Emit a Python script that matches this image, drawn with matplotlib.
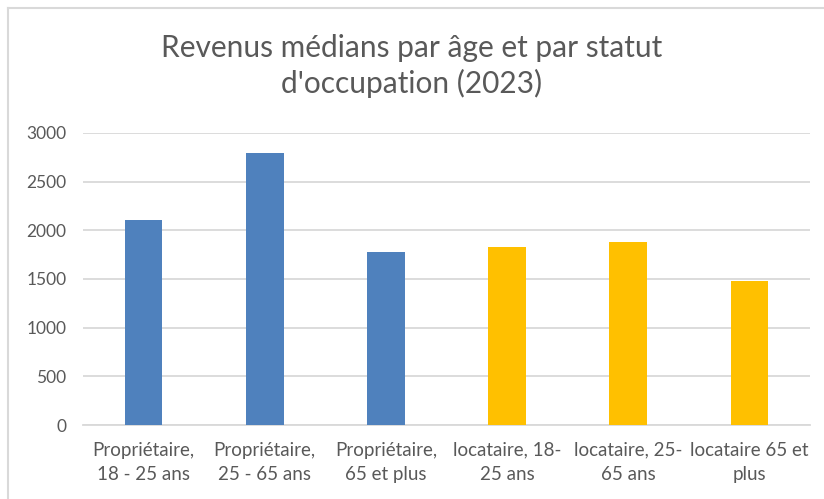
import matplotlib.pyplot as plt
from matplotlib.lines import Line2D

# Data
categories = ["Propriétaire,\n18 - 25 ans", "Propriétaire,\n25 - 65 ans", "Propriétaire,\n65 et plus",
              "locataire, 18-\n25 ans", "locataire, 25-\n65 ans", "locataire 65 et\nplus"]
values = [2110, 2790, 1775, 1830, 1875, 1475]
bar_colors = ["#4F81BD", "#4F81BD", "#4F81BD", "#FFC000", "#FFC000", "#FFC000"]
yticks = [0, 500, 1000, 1500, 2000, 2500, 3000]

plt.rcParams['font.family'] = ['Lato', 'DejaVu Sans']
text_col = "#595959"

fig = plt.figure(figsize=(8.24, 4.99), dpi=100)
W, H = 824, 499
ax = fig.add_axes([83 / W, 1 - 425 / H, (810 - 83) / W, (425 - 133) / H])

ax.bar(range(len(categories)), values, width=0.31, color=bar_colors, zorder=3)

ax.set_ylim(0, 3000)
ax.set_xlim(-0.5, len(categories) - 0.5)
ax.set_yticks(yticks)
ax.set_yticklabels([str(v) for v in yticks], color=text_col, fontsize=12.5)
ax.set_xticks(range(len(categories)))
ax.set_xticklabels(categories, color=text_col, fontsize=13.5, linespacing=1.5)
ax.tick_params(axis='both', length=0)
ax.tick_params(axis='y', pad=12)
ax.tick_params(axis='x', pad=12)
ax.grid(axis='y', color="#D9D9D9", linewidth=1.3, zorder=0)
for s in ['top', 'right', 'left']:
    ax.spines[s].set_visible(False)
ax.spines['bottom'].set_color("#D9D9D9")
ax.spines['bottom'].set_linewidth(1.3)

fig.text(0.5, 1 - 66 / H, "Revenus médians par âge et par statut\nd'occupation (2023)",
         ha='center', va='center', fontsize=21.5, color=text_col, linespacing=1.3)

# chart border (top and left visible)
fig.add_artist(Line2D([8 / W, 1], [1 - 8 / H, 1 - 8 / H], transform=fig.transFigure, color="#D9D9D9", linewidth=1.5))
fig.add_artist(Line2D([8 / W, 8 / W], [0, 1 - 8 / H], transform=fig.transFigure, color="#D9D9D9", linewidth=1.5))

fig.savefig("out.png", dpi=100, facecolor="white")
